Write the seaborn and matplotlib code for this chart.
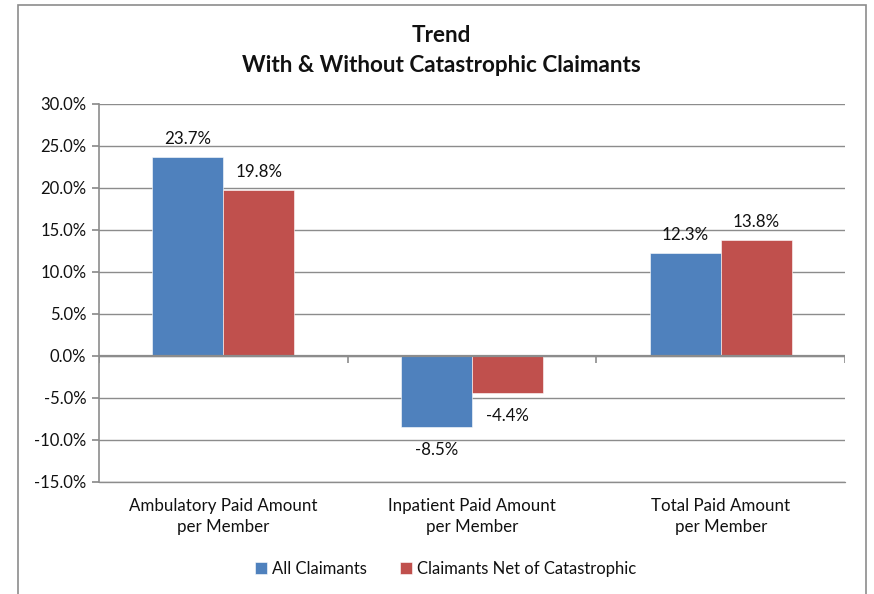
import numpy as np
import pandas as pd
import matplotlib.pyplot as plt
import seaborn as sns
from matplotlib.patches import Rectangle
from matplotlib.ticker import FuncFormatter


categories = [
    "Ambulatory Paid Amount\nper Member",
    "Inpatient Paid Amount\nper Member",
    "Total Paid Amount\nper Member",
]
series_names = ["All Claimants", "Claimants Net of Catastrophic"]
all_claimants = [23.7, -8.5, 12.3]
net_of_catastrophic = [19.8, -4.4, 13.8]
y_ticks = [-15, -10, -5, 0, 5, 10, 15, 20, 25, 30]

colors = ["#4F81BD", "#C0504D"]
grid_color = "#8C8C8C"


def build_frame():

    df = pd.DataFrame({
        "category": categories * 2,
        "series": [series_names[0]] * 3 + [series_names[1]] * 3,
        "value": all_claimants + net_of_catastrophic,
    })

    return df


def draw_chart(df):

    sns.set_theme(style="white")
    plt.rcParams["font.family"] = ["Lato", "DejaVu Sans"]

    fig = plt.figure(figsize=(8.74, 5.94), dpi=100)
    ax = fig.add_axes([0.113, 0.189, 0.854, 0.636])

    # chart frame
    fig.patches.append(Rectangle(
        (18 / 874, -0.05), (866 - 18) / 874, 1.05 - 5 / 594,
        transform=fig.transFigure, fill=False,
        edgecolor="#8C8C8C", linewidth=1.2
    ))

    sns.barplot(
        data=df, x="category", y="value", hue="series",
        palette=colors, width=0.57, gap=0, saturation=1,
        edgecolor="white", linewidth=0.4, ax=ax, legend=True
    )

    ax.set_ylim(-15, 30)
    ax.set_xlim(-0.5, 2.5)
    ax.set_yticks(y_ticks)
    ax.yaxis.set_major_formatter(FuncFormatter(lambda v, p: f"{v:.1f}%"))
    ax.yaxis.grid(True, color=grid_color, linewidth=1)
    ax.set_axisbelow(True)
    ax.axhline(-15, color=grid_color, linewidth=1, clip_on=False, zorder=0.5)

    for side in ["top", "right", "bottom"]:
        ax.spines[side].set_visible(False)
    ax.spines["left"].set_color(grid_color)
    ax.spines["left"].set_linewidth(1.2)

    # zero axis with category tick marks
    ax.axhline(0, color=grid_color, linewidth=1.6, zorder=1.5)
    ax.vlines([-0.5, 0.5, 1.5, 2.5], 0, -0.8, color=grid_color, linewidth=1.2)

    ax.tick_params(axis="y", left=True, length=5, color=grid_color,
                   labelsize=12, pad=4, labelcolor="#111111")
    ax.tick_params(axis="x", bottom=False, labelsize=12.2, pad=6,
                   labelcolor="#111111")
    for lbl in ax.get_xticklabels():
        lbl.set_linespacing(1.35)
    ax.set_xlabel("")
    ax.set_ylabel("")

    for container in ax.containers:
        values = container.datavalues
        pos_labels = [f"{v:.1f}%" if v >= 0 else "" for v in values]
        neg_labels = [f"{v:.1f}%" if v < 0 else "" for v in values]
        ax.bar_label(container, labels=pos_labels, padding=7, fontsize=12.2,
                     color="#111111")
        ax.bar_label(container, labels=neg_labels, padding=11, fontsize=12.2,
                     color="#111111")

    fig.text(0.505, 1 - 35 / 594, "Trend", ha="center", va="center",
             fontsize=16.2, fontweight="bold", color="#111111")
    fig.text(0.505, 1 - 66 / 594, "With & Without Catastrophic Claimants",
             ha="center", va="center", fontsize=16.2, fontweight="bold",
             color="#111111")

    handles, labels = ax.get_legend_handles_labels()
    ax.legend(
        handles, labels, loc="upper center", bbox_to_anchor=(0.465, -0.17),
        ncol=2, frameon=False, fontsize=12, handlelength=0.7,
        handleheight=0.7, handletextpad=0.3, columnspacing=2.0,
        labelcolor="#111111"
    )

    fig.savefig("out.png", dpi=100)


def main():

    df = build_frame()

    draw_chart(df)


if __name__ == "__main__":
    main()
